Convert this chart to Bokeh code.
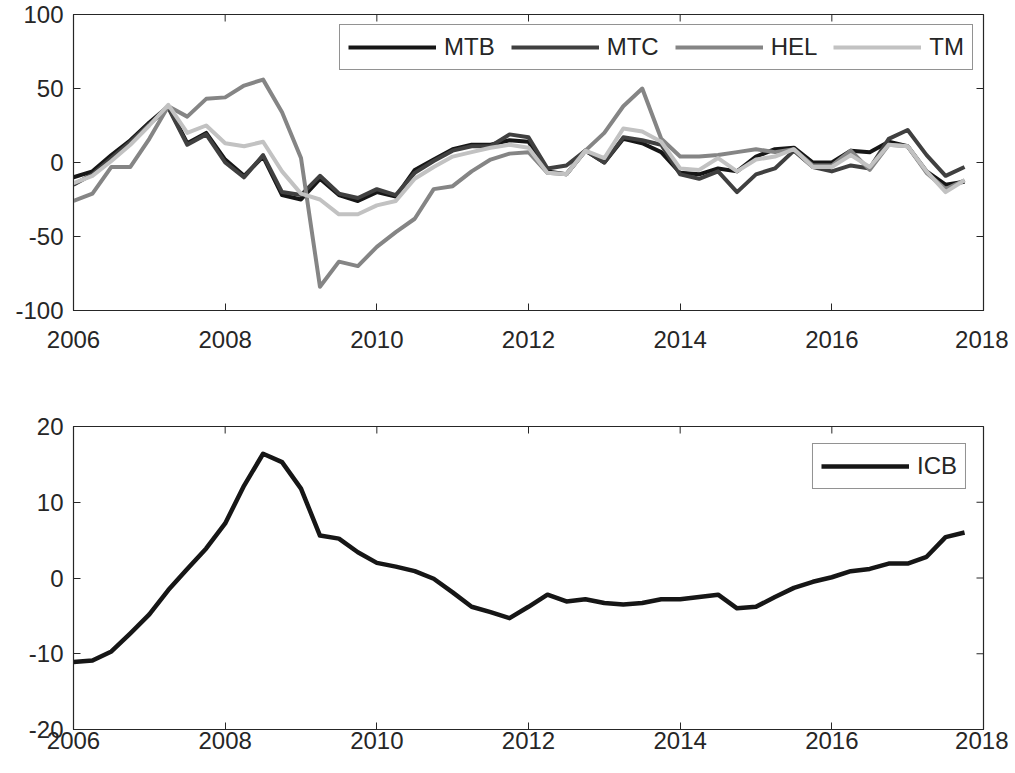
import numpy as np
from bokeh.plotting import figure
from bokeh.layouts import column
from bokeh.models import Range1d, FixedTicker, Legend, LegendItem, BasicTickFormatter
from bokeh.embed import file_html
from bokeh.resources import INLINE

# quarterly dates 2006Q1 .. 2017Q4
quarters = np.arange(2006.0, 2018.0, 0.25)

MTB = [-10, -6, 5, 15, 27, 38, 13, 20, 2, -9, 4, -22,
       -25, -11, -22, -26, -20, -23, -5, 2, 9, 12, 12, 15,
       14, -6, -8, 8, 0, 16, 13, 7, -7, -8, -4, -6,
       4, 9, 10, 0, 0, 8, 7, 14, 11, -6, -15, -13]
MTC = [-15, -8, 3, 14, 26, 37, 12, 19, 0, -10, 5, -20,
       -22, -9, -21, -24, -18, -22, -7, 1, 8, 11, 11, 19,
       17, -4, -2, 8, 0, 17, 15, 12, -8, -11, -6, -20,
       -8, -4, 8, -3, -6, -2, -4, 16, 22, 5, -9, -3]
HEL = [-26, -21, -3, -3, 16, 38, 31, 43, 44, 52, 56, 34,
       3, -84, -67, -70, -57, -47, -38, -18, -16, -6, 2, 6,
       7, -7, -8, 8, 20, 38, 50, 16, 4, 4, 5, 7,
       9, 7, 9, -2, -2, 8, -5, 12, 11, -7, -18, -12]
TM = [-14, -9, 1, 12, 25, 39, 20, 25, 13, 11, 14, -6,
      -21, -25, -35, -35, -29, -26, -11, -3, 4, 7, 10, 12,
      10, -7, -8, 8, 3, 23, 21, 14, -4, -5, 3, -6,
      2, 4, 9, -3, -3, 5, -3, 12, 11, -6, -20, -12]
ICB = [-11.1, -10.9, -9.7, -7.3, -4.8, -1.6, 1.2, 3.9, 7.2, 12.2, 16.4, 15.3,
       11.8, 5.6, 5.2, 3.4, 2.0, 1.5, 0.9, -0.1, -1.9, -3.8, -4.5, -5.3,
       -3.8, -2.2, -3.1, -2.8, -3.3, -3.5, -3.3, -2.8, -2.8, -2.5, -2.2, -4.0,
       -3.8, -2.5, -1.3, -0.5, 0.1, 0.9, 1.2, 1.9, 1.9, 2.8, 5.4, 6.0]

x_ticks = [2006, 2008, 2010, 2012, 2014, 2016, 2018]
y_ticks_top = [-100, -50, 0, 50, 100]
y_ticks_bot = [-20, -10, 0, 10, 20]

FONT = "Liberation Sans"
TXT = "#262626"
FS = "24px"
FW = 910
TICK = 7


def style(p, yticks, fh, xstand):
    p.xgrid.visible = False
    p.ygrid.visible = False
    p.outline_line_color = TXT
    p.outline_line_width = 1.2
    p.background_fill_color = "white"
    p.border_fill_color = "white"
    for ax in (p.xaxis[0], p.yaxis[0]):
        ax.major_tick_in = TICK
        ax.major_tick_out = 0
        ax.minor_tick_in = 0
        ax.minor_tick_out = 0
        ax.axis_line_color = TXT
        ax.major_tick_line_color = TXT
        ax.major_label_text_font = FONT
        ax.major_label_text_font_size = FS
        ax.major_label_text_color = TXT
    p.xaxis[0].major_label_standoff = xstand
    p.yaxis[0].major_label_standoff = 10
    p.xaxis[0].ticker = FixedTicker(ticks=x_ticks)
    p.xaxis[0].formatter = BasicTickFormatter(use_scientific=False)
    p.yaxis[0].ticker = FixedTicker(ticks=yticks)
    p.yaxis[0].major_label_overrides = {t: str(t) for t in yticks}
    # tick marks on top and right edges (inside), measured in pixels
    p.extra_y_ranges = {"pxy": Range1d(0, fh)}
    p.extra_x_ranges = {"pxx": Range1d(0, FW)}
    n = len(x_ticks)
    p.segment(x0=x_ticks, x1=x_ticks, y0=[fh] * n, y1=[fh - TICK] * n,
              y_range_name="pxy", line_color=TXT, line_width=1)
    m = len(yticks)
    p.segment(x0=[FW] * m, x1=[FW - TICK] * m, y0=yticks, y1=yticks,
              x_range_name="pxx", line_color=TXT, line_width=1)


def legend_style(lg):
    lg.location = "top_right"
    lg.orientation = "horizontal"
    lg.border_line_color = TXT
    lg.border_line_width = 1.5
    lg.background_fill_color = "white"
    lg.background_fill_alpha = 1.0
    lg.label_text_font = FONT
    lg.label_text_font_size = FS
    lg.label_text_color = TXT
    lg.glyph_width = 88
    lg.glyph_height = 26
    lg.label_standoff = 8
    lg.spacing = 16
    lg.padding = 8


FH1 = 296
p1 = figure(frame_width=FW, frame_height=FH1, output_backend="svg", toolbar_location=None,
            x_range=Range1d(2006, 2018), y_range=Range1d(-100, 100),
            min_border_left=73, min_border_right=25, min_border_top=14, min_border_bottom=88)
style(p1, y_ticks_top, FH1, 20)

cols = {"MTB": "#161616", "MTC": "#404040", "HEL": "#858585", "TM": "#c2c2c2"}
items = []
for name, vals in (("MTB", MTB), ("MTC", MTC), ("HEL", HEL), ("TM", TM)):
    r = p1.line(quarters, vals, line_color=cols[name], line_width=4, line_join="round")
    items.append(LegendItem(label=name, renderers=[r]))
lg1 = Legend(items=items)
legend_style(lg1)
lg1.margin = 10
p1.add_layout(lg1, "center")

FH2 = 303
p2 = figure(frame_width=FW, frame_height=FH2, output_backend="svg", toolbar_location=None,
            x_range=Range1d(2006, 2018), y_range=Range1d(-20, 20),
            min_border_left=73, min_border_right=25, min_border_top=28, min_border_bottom=30)
style(p2, y_ticks_bot, FH2, 2)
r2 = p2.line(quarters, ICB, line_color="#161616", line_width=4.5, line_join="round")
lg2 = Legend(items=[LegendItem(label="ICB", renderers=[r2])])
legend_style(lg2)
lg2.margin = 17
p2.add_layout(lg2, "center")

layout = column(p1, p2, spacing=0)
open("out.html", "w").write(file_html(layout, INLINE))
